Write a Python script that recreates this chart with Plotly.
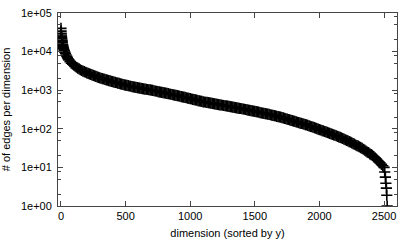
import plotly.graph_objects as go

# rank of dimension (sorted by y)
dims_head = [0, 1, 2, 3, 4, 5, 6, 7, 8, 9, 10, 12, 14, 16, 18, 20, 23, 26, 30, 35,
             40, 45, 50, 55, 60, 70, 80, 90]
dims_body = list(range(100, 2501, 10))
dims_tail = [2505, 2510, 2514, 2518, 2521, 2524]

# number of edges per dimension
edges_head = [40000, 34000, 30000, 27000, 25000, 23000, 21500, 20000, 19000, 18000,
              17000, 15500, 14500, 13500, 12800, 12000, 11200, 10500, 9700, 8900,
              8200, 7600, 7000, 6500, 6100, 5500, 5000, 4700]
edges_body = [
    4467,
    4169, 3936, 3715, 3548, 3388, 3236, 3126, 3020, 2917, 2818,
    2735, 2655, 2577, 2500, 2427, 2355, 2286, 2218, 2153, 2089,
    2042, 1995, 1950, 1905, 1862, 1820, 1778, 1738, 1698, 1660,
    1626, 1592, 1560, 1528, 1496, 1466, 1435, 1406, 1377, 1349,
    1327, 1306, 1285, 1265, 1245, 1225, 1205, 1186, 1167, 1148,
    1132, 1117, 1102, 1086, 1072, 1057, 1042, 1028, 1014, 1000,
    984, 968, 953, 938, 923, 908, 893, 879, 865, 851,
    837, 824, 811, 798, 785, 773, 760, 748, 736, 724,
    711, 698, 685, 673, 661, 649, 637, 626, 614, 603,
    592, 581, 571, 560, 550, 540, 530, 520, 511, 501,
    495, 488, 481, 475, 468, 462, 456, 449, 443, 437,
    431, 425, 419, 413, 407, 402, 396, 391, 385, 380,
    375, 370, 365, 360, 355, 350, 345, 340, 336, 331,
    326, 321, 316, 311, 305, 300, 296, 291, 287, 282,
    278, 273, 269, 264, 260, 256, 252, 248, 244, 240,
    236, 231, 227, 223, 219, 215, 211, 207, 204, 200,
    195, 191, 186, 182, 178, 174, 170, 166, 162, 158,
    155, 151, 148, 144, 141, 138, 135, 132, 129, 126,
    122, 119, 116, 113, 110, 107, 104, 101, 98, 95,
    93, 90, 88, 85, 83, 81, 78, 76, 74, 72,
    70, 68, 66, 64, 62, 60, 58, 56, 54, 52,
    50, 48.5, 46.5, 45, 43, 41.5, 40, 38, 36.5, 35.5,
    34, 32.5, 31, 29.5, 28, 26.5, 25, 24, 22.5, 21.4,
    20.5, 19, 17.8, 16.5, 15.1, 14, 13, 12, 11, 10,
]
edges_tail = [7.6, 5.6, 3.9, 2.9, 1.9, 1.0]

dims = dims_head + dims_body + dims_tail
edges = edges_head + edges_body + edges_tail
assert len(dims) == len(edges)

x_ticks = [0, 500, 1000, 1500, 2000, 2500]
y_ticks = [1, 10, 100, 1000, 10000, 100000]
y_tick_labels = ["1e+00", "1e+01", "1e+02", "1e+03", "1e+04", "1e+05"]
y_minor = [m * 10 ** e for e in range(0, 5) for m in (2, 5, 8)]

font = "Liberation Sans, Arial, sans-serif"
frame = "#444444"

fig = go.Figure()
fig.add_trace(go.Scatter(
    x=dims, y=edges, mode="markers",
    marker=dict(symbol="cross-thin", size=8, color="black",
                line=dict(color="black", width=1.6)),
    showlegend=False,
))

fig.update_layout(
    width=415, height=249,
    margin=dict(l=58, r=18, t=13, b=43, autoexpand=False),
    paper_bgcolor="white", plot_bgcolor="white",
    font=dict(family=font, size=11, color="black"),
    xaxis=dict(
        range=[-23, 2600], tickmode="array", tickvals=x_ticks,
        ticks="inside", ticklen=5, tickcolor=frame, mirror="allticks",
        showline=True, linecolor=frame, linewidth=1, showgrid=False, zeroline=False,
        automargin=False,
        title=dict(text="dimension (sorted by y)", standoff=8,
                   font=dict(family=font, size=11)),
        tickfont=dict(family=font, size=11),
    ),
    yaxis=dict(
        type="log", range=[0, 5], tickmode="array", tickvals=y_ticks,
        ticktext=y_tick_labels, ticklabelstandoff=3,
        ticks="inside", ticklen=5, tickcolor=frame, mirror="allticks",
        showline=True, linecolor=frame, linewidth=1, showgrid=False, zeroline=False,
        automargin=False,
        minor=dict(tickmode="array", tickvals=y_minor, ticks="inside", ticklen=3,
                   tickcolor=frame, showgrid=False),
        title=dict(text="# of edges per dimension", standoff=8,
                   font=dict(family=font, size=11)),
        tickfont=dict(family=font, size=11),
    ),
)

fig.write_html(
    "out.html",
    config={"displayModeBar": False, "staticPlot": True},
    post_script="document.body.style.margin='0';document.body.style.overflow='hidden';",
)
